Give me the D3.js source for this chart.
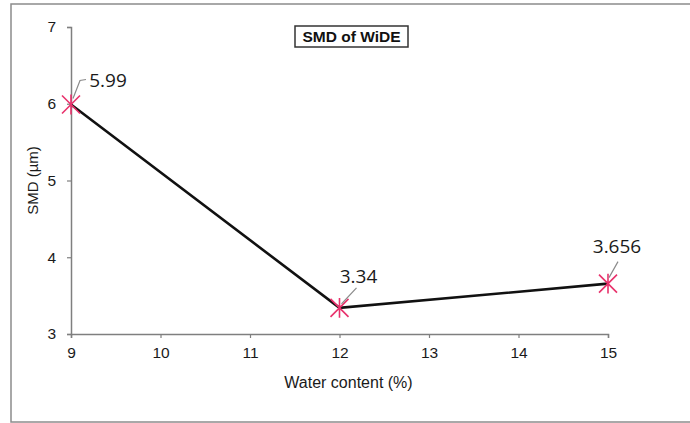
<!DOCTYPE html>
<html>
<head>
<meta charset="utf-8">
<script src="https://cdn.jsdelivr.net/npm/d3@7"></script>
<style>
html,body{margin:0;padding:0;background:#fff;}
svg{display:block;}
</style>
</head>
<body>
<svg id="chart" width="690" height="423"></svg>
<script>
const waterContent = [9, 12, 15];
const smdValues = [5.99, 3.34, 3.656];
const pointLabels = ["5.99", "3.34", "3.656"];
const xTicks = [9, 10, 11, 12, 13, 14, 15];
const yTicks = [3, 4, 5, 6, 7];
const chartTitle = "SMD of WiDE";
const xTitle = "Water content (%)";
const yTitle = "SMD (µm)";

const svg = d3.select("#chart");
const font = "Liberation Sans, Arial, sans-serif";

// outer frame
svg.append("rect").attr("x", 11).attr("y", 4).attr("width", 700).attr("height", 418)
  .attr("fill", "none").attr("stroke", "#8c8c8c").attr("stroke-width", 1.5);

const x = d3.scaleLinear().domain([9, 15]).range([71, 608]);
const y = d3.scaleLinear().domain([3, 7]).range([334, 27]);

const axisColor = "#7f7f7f";

const gx = svg.append("g").attr("transform", `translate(0,${y(3)})`)
  .call(d3.axisBottom(x).tickValues(xTicks).tickSize(4).tickPadding(9).tickFormat(d3.format("d")));
const gy = svg.append("g").attr("transform", `translate(${x(9)},0)`)
  .call(d3.axisLeft(y).tickValues(yTicks).tickSize(4).tickPadding(11).tickFormat(d3.format("d")));
[gx, gy].forEach(g => {
  g.select(".domain").attr("stroke", axisColor).attr("stroke-width", 1.5);
  g.selectAll(".tick line").attr("stroke", axisColor).attr("stroke-width", 1.2);
  g.selectAll(".tick text").attr("fill", "#1a1a1a").style("font-family", font).style("font-size", "15.5px");
});

// axis titles
svg.append("text").attr("x", (x(9) + x(15)) / 2 + 9).attr("y", 388)
  .attr("text-anchor", "middle").style("font-family", font).style("font-size", "16px").attr("fill", "#1a1a1a")
  .text(xTitle);
svg.append("text").attr("transform", `translate(33,${(y(3) + y(7)) / 2}) rotate(-90)`)
  .attr("text-anchor", "middle").attr("dy", "0.35em").style("font-family", font).style("font-size", "15px").attr("fill", "#1a1a1a")
  .text(yTitle);

// title box
const tg = svg.append("g");
tg.append("rect").attr("x", 295).attr("y", 26).attr("width", 113).attr("height", 21)
  .attr("fill", "#fff").attr("stroke", "#333").attr("stroke-width", 1.5);
tg.append("text").attr("x", 351.5).attr("y", 42).attr("text-anchor", "middle")
  .style("font-family", font).style("font-size", "15.5px").style("font-weight", "bold").attr("fill", "#111")
  .text(chartTitle);

const data = waterContent.map((w, i) => ({ w, v: smdValues[i], label: pointLabels[i] }));

// line
svg.append("path").datum(data)
  .attr("d", d3.line().x(d => x(d.w)).y(d => y(d.v)))
  .attr("fill", "none").attr("stroke", "#111").attr("stroke-width", 2.6);

// markers (star: X + vertical)
const mk = svg.append("g").selectAll("g").data(data).join("g")
  .attr("transform", d => `translate(${x(d.w)},${y(d.v)})`);
const r = 9;
mk.append("path")
  .attr("d", `M${-r},${-r}L${r},${r}M${-r},${r}L${r},${-r}M0,${-r * 1.1}L0,${r * 1.1}`)
  .attr("stroke", "#e8326c").attr("stroke-width", 1.6).attr("fill", "none");

// leader lines & labels (offsets relative to point)
const labelOffsets = [
  { lx: 37, ly: -24, path: [[2, -6], [9, -24], [15, -25]], anchor: "middle" },
  { lx: 19, ly: -32, path: [[2, -4], [17, -20]], anchor: "middle" },
  { lx: 9, ly: -37, path: [[1, -6], [10, -22]], anchor: "middle" }
];
data.forEach((d, i) => {
  const px = x(d.w), py = y(d.v), o = labelOffsets[i];
  svg.append("path")
    .attr("d", d3.line()(o.path.map(p => [px + p[0], py + p[1]])))
    .attr("fill", "none").attr("stroke", "#8a8a8a").attr("stroke-width", 1.2);
  svg.append("text").attr("x", px + o.lx).attr("y", py + o.ly).attr("dy", "0.35em")
    .attr("text-anchor", o.anchor)
    .style("font-family", "Open Sans, sans-serif").style("font-size", "19px").attr("fill", "#1a1a1a")
    .text(d.label);
});
</script>
</body>
</html>
